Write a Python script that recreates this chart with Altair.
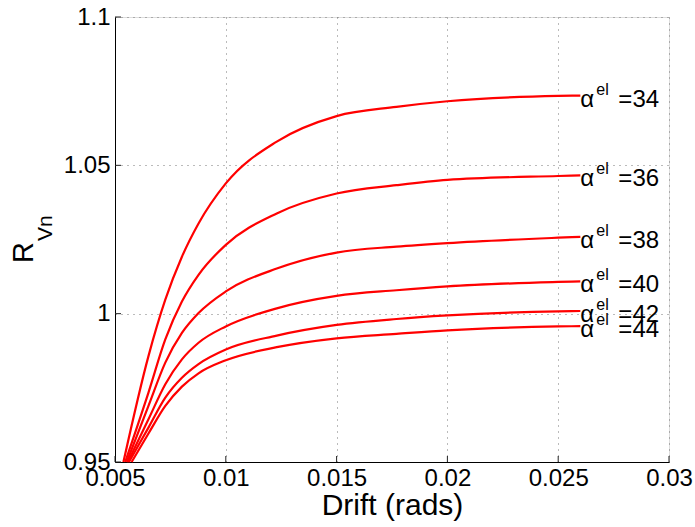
import altair as alt
import pandas as pd

# shared drift positions (rads)
drift = [0.00651, 0.00727, 0.00802, 0.00877, 0.0100,
         0.0123, 0.0150, 0.0177, 0.0200, 0.0250, 0.0260]

alphas = [34, 36, 38, 40, 42, 44]
start_drift = [0.00538, 0.00546, 0.00553, 0.00558, 0.00563, 0.00575]
start_r = 0.95

r34 = [0.9857, 1.0047, 1.0192, 1.0304, 1.0439, 1.0580, 1.0666, 1.0697, 1.0716, 1.0734, 1.0735]
r36 = [0.9734, 0.9913, 1.0041, 1.0131, 1.0232, 1.0338, 1.0405, 1.0433, 1.0451, 1.0464, 1.0466]
r38 = [0.9689, 0.9835, 0.9935, 1.0002, 1.0075, 1.0152, 1.0206, 1.0226, 1.0238, 1.0256, 1.0259]
r40 = [0.9644, 0.9762, 0.9846, 0.9902, 0.9957, 1.0018, 1.0060, 1.0079, 1.0092, 1.0107, 1.0109]
r42 = [0.9616, 0.9717, 0.9784, 0.9830, 0.9879, 0.9926, 0.9962, 0.9982, 0.9994, 1.0008, 1.0009]
r44 = [0.9596, 0.9689, 0.9754, 0.9799, 0.9843, 0.9887, 0.9917, 0.9932, 0.9944, 0.9957, 0.9958]
series = [r34, r36, r38, r40, r42, r44]

x_ticks = [0.005, 0.01, 0.015, 0.02, 0.025, 0.03]
y_ticks = [0.95, 1.0, 1.05, 1.1]

rows = []
labels = []
for a, sx, ys in zip(alphas, start_drift, series):
    rows.append({"alpha": a, "drift": sx, "r": start_r, "order": 0})
    for i, (x, y) in enumerate(zip(drift, ys)):
        rows.append({"alpha": a, "drift": x, "r": y, "order": i + 1})
    labels.append({"alpha": a, "drift": drift[-1], "r": ys[-1], "num": f"={a}"})
df = pd.DataFrame(rows)
lab = pd.DataFrame(labels)

FONT = "Liberation Sans"
W, H = 554, 445

xscale = alt.Scale(domain=[0.005, 0.03], nice=False, zero=False)
yscale = alt.Scale(domain=[0.95, 1.1], nice=False, zero=False)

xaxis = alt.Axis(values=x_ticks, format="~g", title="Drift (rads)", grid=True,
                 gridDash=[1, 5], gridColor="#777", gridOpacity=1, gridWidth=1,
                 tickSize=0, labelPadding=4, labelFontSize=24, titleFontSize=30,
                 titleFontWeight="normal", titlePadding=0, domainColor="black",
                 labelFont=FONT, titleFont=FONT, labelColor="black", titleColor="black",
                 labelFlush=False)
yaxis = alt.Axis(values=y_ticks, format="~g", title=None, grid=True,
                 gridDash=[1, 5], gridColor="#777", gridOpacity=1, gridWidth=1,
                 tickSize=0, labelPadding=5, labelFontSize=24, domainColor="black",
                 labelFont=FONT, labelColor="black", labelFlush=False)

lines = alt.Chart(df).mark_line(color="#ff0000", strokeWidth=2.2, interpolate="monotone").encode(
    x=alt.X("drift:Q", scale=xscale, axis=xaxis),
    y=alt.Y("r:Q", scale=yscale, axis=yaxis),
    detail="alpha:N",
    order="order:Q",
)

alpha_txt = alt.Chart(lab).mark_text(text="α", align="left", baseline="alphabetic",
                                     fontSize=24, font=FONT, dx=0, dy=11, color="black").encode(
    x=alt.X("drift:Q", scale=xscale), y=alt.Y("r:Q", scale=yscale))
el_txt = alt.Chart(lab).mark_text(text="el", align="left", baseline="alphabetic",
                                  fontSize=16, font=FONT, dx=16, dy=-1, color="black").encode(
    x=alt.X("drift:Q", scale=xscale), y=alt.Y("r:Q", scale=yscale))
num_txt = alt.Chart(lab).mark_text(align="left", baseline="alphabetic",
                                   fontSize=24, font=FONT, dx=38, dy=11, color="black").encode(
    x=alt.X("drift:Q", scale=xscale), y=alt.Y("r:Q", scale=yscale), text="num:N")

ytick_df = pd.DataFrame({"v": y_ticks})
xtick_df = pd.DataFrame({"v": x_ticks})
yticks = alt.Chart(ytick_df).mark_rule(color="#222", strokeWidth=1).encode(
    y=alt.Y("v:Q", scale=yscale), x=alt.value(0), x2=alt.value(6))
xticks = alt.Chart(xtick_df).mark_rule(color="#222", strokeWidth=1).encode(
    x=alt.X("v:Q", scale=xscale), y=alt.value(H), y2=alt.value(H - 6))

ytitle_r = alt.Chart(pd.DataFrame({"t": ["R"]})).mark_text(
    align="left", baseline="alphabetic", angle=270, fontSize=29, font=FONT, color="black").encode(
    x=alt.value(-82), y=alt.value(246), text="t:N")
ytitle_sub = alt.Chart(pd.DataFrame({"t": ["Vn"]})).mark_text(
    align="left", baseline="alphabetic", angle=270, fontSize=21, font=FONT, color="black").encode(
    x=alt.value(-63), y=alt.value(224), text="t:N")

chart = alt.layer(lines, yticks, xticks, alpha_txt, el_txt, num_txt, ytitle_r, ytitle_sub).properties(
    width=W, height=H,
    autosize=alt.AutoSizeParams(type="none"),
    padding={"left": 115, "top": 17, "right": 695 - 115 - W, "bottom": 527 - 17 - H},
).configure_view(stroke=None).configure(background="white")

chart.save("out.html", embed_options={"renderer": "svg", "actions": False})
